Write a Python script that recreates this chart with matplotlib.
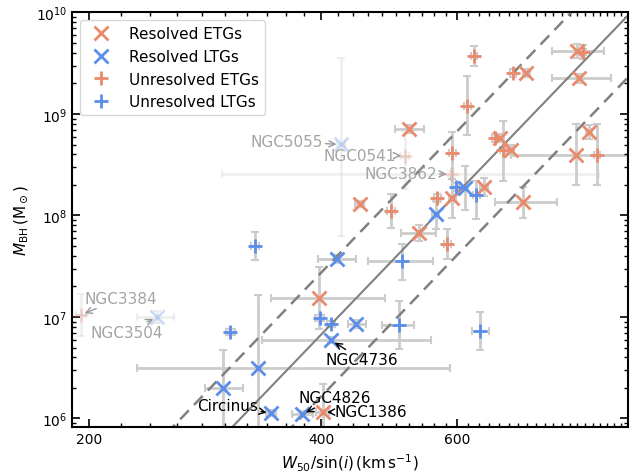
import numpy as np
import matplotlib
matplotlib.use("Agg")
import matplotlib.pyplot as plt

# colours
c_etg = '#EA8A6C'
c_ltg = '#5B8EEA'
c_err = '#cccccc'
c_line = '#808080'

# --- resolved ETGs (x markers) ---
retg_w = [402, 397, 449, 520, 535, 592, 650, 731, 682, 706, 738, 859, 863, 891, 856]
retg_wlo = [8, 53, 6, 22, 28, 6, 8, 59, 6, 6, 8, 62, 66, 8, 151]
retg_whi = [8, 87, 6, 24, 29, 6, 8, 78, 6, 6, 8, 71, 87, 8, 152]
retg_m = [6.06, 7.19, 8.11, 8.85, 7.83, 8.17, 8.28, 8.13, 8.76, 8.65, 9.40, 9.62, 9.35, 8.82, 8.60]
retg_mlo = [0.30, 0.31, 0.03, 0.04, 0.08, 0.19, 0.09, 0.15, 0.04, 0.04, 0.04, 0.07, 0.04, 0.07, 0.30]
retg_mhi = [0.28, 0.30, 0.03, 0.04, 0.08, 0.19, 0.09, 0.15, 0.04, 0.04, 0.04, 0.07, 0.04, 0.07, 0.30]

# --- unresolved ETGs (+ markers) ---
uetg_w = [493, 566, 583, 592, 619, 631, 672, 688, 709, 875, 912]
uetg_wlo = [6, 6, 6, 6, 6, 6, 6, 6, 6, 8, 8]
uetg_whi = [6, 6, 6, 6, 6, 6, 6, 6, 6, 8, 8]
uetg_m = [8.04, 8.17, 7.72, 8.62, 9.08, 9.57, 8.76, 8.65, 9.40, 9.61, 8.60]
uetg_mlo = [0.16, 0.04, 0.15, 0.46, 0.29, 0.10, 0.04, 0.31, 0.04, 0.07, 0.30]
uetg_mhi = [0.17, 0.04, 0.15, 0.20, 0.29, 0.10, 0.04, 0.28, 0.04, 0.07, 0.30]

# --- resolved LTGs (x markers) ---
rltg_w = [298, 331, 344, 378, 412, 419, 444, 563, 615]
rltg_wlo = [15, 100, 5, 11, 77, 23, 11, 6, 6]
rltg_whi = [19, 257, 5, 12, 143, 25, 13, 6, 6]
rltg_m = [6.30, 6.50, 6.05, 6.04, 6.77, 7.57, 6.93, 8.01, 8.27]
rltg_mlo = [0.39, 0.61, 0.03, 0.03, 0.03, 0.04, 0.04, 0.14, 0.22]
rltg_mhi = [0.37, 0.72, 0.03, 0.03, 0.03, 0.04, 0.04, 0.13, 0.22]

# --- unresolved LTGs (+ markers) ---
ultg_w = [305, 328, 398, 412, 504, 509, 643, 598, 636]
ultg_wlo = [4, 4, 5, 5, 24, 49, 16, 6, 6]
ultg_whi = [4, 4, 5, 5, 24, 50, 17, 6, 6]
ultg_m = [6.85, 7.70, 6.99, 6.93, 6.92, 7.55, 6.86, 8.28, 8.20]
ultg_mlo = [0.03, 0.14, 0.03, 0.03, 0.24, 0.19, 0.19, 0.04, 0.23]
ultg_mhi = [0.03, 0.14, 0.03, 0.03, 0.24, 0.17, 0.19, 0.04, 0.14]

# --- faded (excluded) galaxies ---
fade_names = ['NGC3384', 'NGC0541', 'NGC3862', 'NGC3504', 'NGC5055']
fade_type = ['etg', 'etg', 'etg', 'ltg', 'ltg']
fade_mark = ['+', '+', '+', 'x', 'x']
fade_w = [195, 514, 589, 245, 424]
fade_wlo = [3, 6, 292, 14, 5]
fade_whi = [3, 6, 327, 13, 5]
fade_m = [7.02, 8.59, 8.41, 7.00, 8.70]
fade_mlo = [0.21, 0.33, 0.03, 0.06, 0.90]
fade_mhi = [0.21, 0.23, 0.03, 0.06, 0.85]
# text offsets (points) and alignment
fade_off = [(3, 12), (-7, 0), (-10, 0), (-22, -11), (-13, 2)]
fade_ha = ['left', 'right', 'right', 'center', 'right']

# labelled galaxies
lab_names = ['NGC4736', 'Circinus', 'NGC4826', 'NGC1386']
lab_w = [412, 344, 378, 402]
lab_m = [6.77, 6.05, 6.04, 6.06]
lab_off = [(-4, -14), (-9, 6), (-3, 12), (8, 1)]
lab_ha = ['left', 'right', 'left', 'left']

# fitted relation
slope = 7.9
icpt = 7.593
scatter = 0.61
w_piv = 500.0

plt.rcParams['font.family'] = 'DejaVu Sans'
plt.rcParams['mathtext.fontset'] = 'dejavusans'

fig = plt.figure(figsize=(6.3, 4.77), dpi=100)
ax = fig.add_axes([0.1143, 0.1027, 0.8825, 0.869])

ms = 9.5
mew = 2


def draw(w, wlo, whi, m, mlo, mhi, mk, col, label=None, alpha=1.0):
    w = np.array(w, float)
    m = 10 ** np.array(m)
    ylo = m - m * 10 ** (-np.array(mlo))
    yhi = m * 10 ** np.array(mhi) - m
    ax.errorbar(w, m, xerr=[wlo, whi], yerr=[ylo, yhi], fmt='none',
                ecolor=c_err, elinewidth=2, capsize=3, capthick=1.5,
                alpha=alpha, zorder=1)
    ax.plot(w, m, ls='none', marker=mk, ms=ms, mew=mew, color=col,
            alpha=alpha, label=label, zorder=3)


draw(retg_w, retg_wlo, retg_whi, retg_m, retg_mlo, retg_mhi, 'x', c_etg, 'Resolved ETGs')
draw(rltg_w, rltg_wlo, rltg_whi, rltg_m, rltg_mlo, rltg_mhi, 'x', c_ltg, 'Resolved LTGs')
draw(uetg_w, uetg_wlo, uetg_whi, uetg_m, uetg_mlo, uetg_mhi, '+', c_etg, 'Unresolved ETGs')
draw(ultg_w, ultg_wlo, ultg_whi, ultg_m, ultg_mlo, ultg_mhi, '+', c_ltg, 'Unresolved LTGs')

for i in range(len(fade_names)):
    col = c_etg if fade_type[i] == 'etg' else c_ltg
    draw([fade_w[i]], [fade_wlo[i]], [fade_whi[i]], [fade_m[i]], [fade_mlo[i]],
         [fade_mhi[i]], fade_mark[i], col, alpha=0.3)
    ax.annotate(fade_names[i], xy=(fade_w[i], 10 ** fade_m[i]), xytext=fade_off[i],
                textcoords='offset points', ha=fade_ha[i], va='center',
                fontsize=11, color='#9a9a9a', alpha=0.9,
                arrowprops=dict(arrowstyle='->', color='#9a9a9a', lw=1,
                                shrinkA=0, shrinkB=3), zorder=4)

for i in range(len(lab_names)):
    ax.annotate(lab_names[i], xy=(lab_w[i], 10 ** lab_m[i]), xytext=lab_off[i],
                textcoords='offset points', ha=lab_ha[i], va='center',
                fontsize=11, color='black',
                arrowprops=dict(arrowstyle='->', color='black', lw=1,
                                shrinkA=0, shrinkB=3), zorder=4)

# relation lines
wl = np.array([150.0, 1200.0])
base = slope * np.log10(wl / w_piv) + icpt
ax.plot(wl, 10 ** base, color=c_line, lw=1.5, zorder=2)
ax.plot(wl, 10 ** (base + scatter), color=c_line, lw=1.8, ls=(0, (5, 3)), zorder=2)
ax.plot(wl, 10 ** (base - scatter), color=c_line, lw=1.8, ls=(0, (5, 3)), zorder=2)

ax.set_xscale('log')
ax.set_yscale('log')
ax.set_xlim(190, 1000)
ax.set_ylim(8.24e5, 1e10)
ax.set_xticks([200, 400, 600])
ax.set_xticklabels(['200', '400', '600'])
ax.set_xticks(np.arange(200, 1000, 20), minor=True)
ax.xaxis.set_minor_formatter(matplotlib.ticker.NullFormatter())

ax.tick_params(which='both', direction='in', top=True, right=True, labelsize=10)
ax.tick_params(which='major', length=6, width=1.2)
ax.tick_params(which='minor', length=3, width=1)
for s in ax.spines.values():
    s.set_linewidth(1.5)

ax.set_xlabel(r'$W_{50}/\sin(i)\,(\mathrm{km\,s^{-1}})$', fontsize=11)
ax.set_ylabel(r'$M_\mathrm{BH}\,(\mathrm{M}_\odot)$', fontsize=11)

ax.legend(loc='upper left', fontsize=11, markerscale=1.0, handletextpad=0.8)

fig.savefig('out.png', dpi=100)
